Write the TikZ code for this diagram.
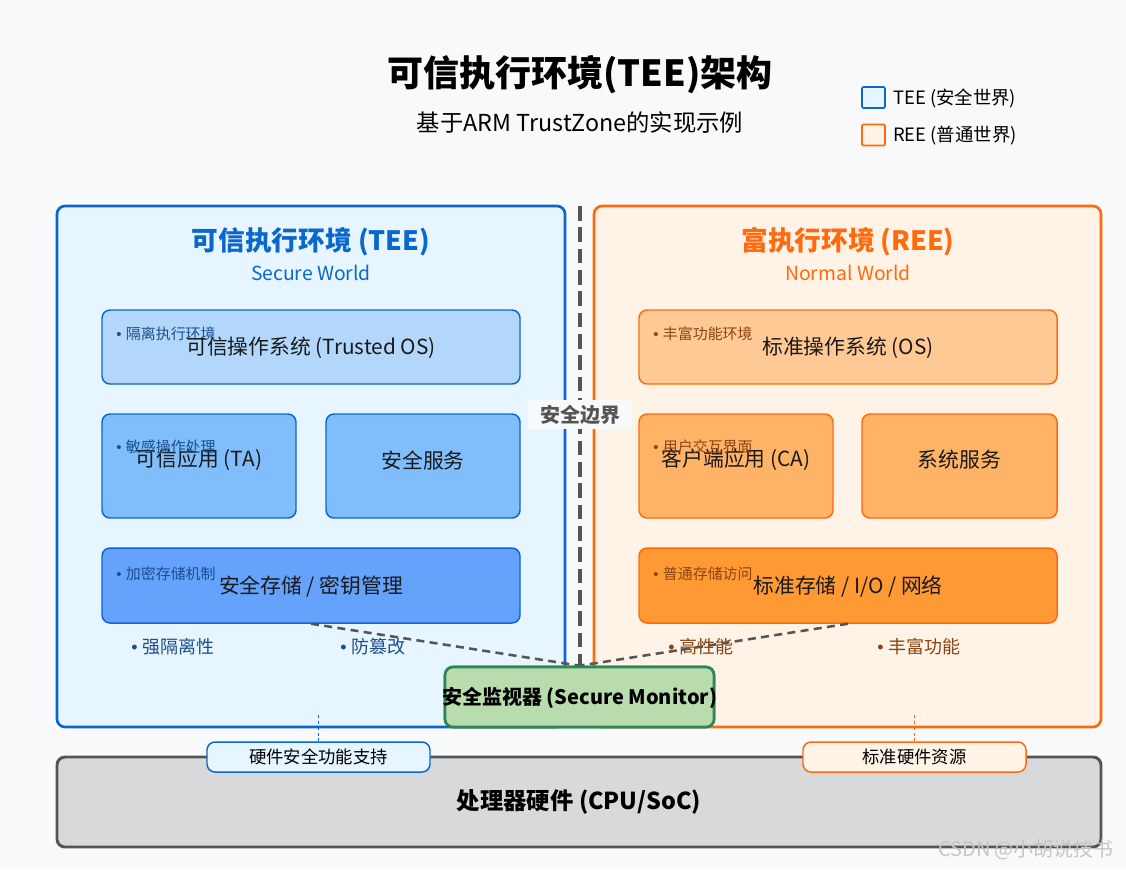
\documentclass[tikz,border=0pt]{standalone}
\usepackage{fontspec}
\setmainfont{Noto Sans CJK SC}
\newfontfamily\lsf{Liberation Sans}
\usetikzlibrary{positioning}

\definecolor{pagebg}{HTML}{F8F9FA}
\definecolor{teeline}{HTML}{0A68CC}
\definecolor{teefill}{HTML}{E6F5FF}
\definecolor{teeos}{HTML}{B3D7FA}
\definecolor{teeapp}{HTML}{80BDFB}
\definecolor{teestore}{HTML}{64A2FB}
\definecolor{teenote}{HTML}{1B4F8A}
\definecolor{reeline}{HTML}{FF6A0D}
\definecolor{reefill}{HTML}{FFF2E6}
\definecolor{reeos}{HTML}{FFC995}
\definecolor{reeapp}{HTML}{FFB366}
\definecolor{reestore}{HTML}{FF9933}
\definecolor{reenote}{HTML}{8B4513}
\definecolor{monfill}{HTML}{B9DCAF}
\definecolor{monline}{HTML}{2E8555}
\definecolor{cpufill}{HTML}{D8D9DB}
\definecolor{darkgray}{HTML}{555555}

% narrow list bullet
\newcommand\bul{{\lsf\textbullet}\hspace{0.3em}}

\begin{document}
\begin{tikzpicture}[x=0.75pt,y=-0.75pt,
  sz/.style 2 args={minimum width=#1*0.75pt, minimum height=#2*0.75pt, inner sep=0pt},
  world/.style={draw, line width=2pt, rounded corners=6pt},
  part/.style={draw, line width=1.1pt, rounded corners=6pt},
  parttext/.style={font=\fontsize{15.6}{18}\selectfont, text=black!90, inner sep=0pt},
  note/.style={font=\fontsize{11.2}{13}\selectfont, anchor=west, inner sep=0pt},
  feature/.style={font=\fontsize{13.5}{16}\selectfont, anchor=west, inner sep=0pt},
  wtitle/.style={font=\fontsize{20}{24}\bfseries\selectfont, inner sep=0pt},
  wsub/.style={font=\fontsize{14.5}{17}\selectfont, inner sep=0pt},
  link/.style={darkgray, line width=1.9pt, dash pattern=on 6pt off 4pt},
  boundary/.style={darkgray, line width=3pt, dash pattern=on 11pt off 5pt},
  hwtag/.style={draw, line width=1.1pt, rounded corners=6pt, font=\fontsize{13}{15}\selectfont},
  tick/.style={line width=0.8pt, dash pattern=on 2.2pt off 2.2pt},
  legendbox/.style={draw, line width=1.2pt, rounded corners=1pt},
  monbox/.style={draw=monline, fill=monfill, line width=2pt, rounded corners=6pt}
]
% page
\fill[pagebg] (0,0) rectangle (1126,869);
\useasboundingbox (0,0) rectangle (1126,869);

% heading
\node[font=\fontsize{27}{32}\bfseries\selectfont, inner sep=0pt] (title) at (580,75) {可信执行环境(TEE)架构};
\node[font=\fontsize{17.5}{21}\selectfont, inner sep=0pt] (subtitle) at (580,123) {基于ARM TrustZone的实现示例};

% legend
\node[legendbox, draw=teeline, fill=teefill, sz={23}{21}] (lgtee) at (873.5,97.5) {};
\node[anchor=west, inner sep=0pt, font=\fontsize{13.8}{15}\selectfont] (lgteetext) at (893,98) {TEE (安全世界)};
\node[legendbox, draw=reeline, fill=reefill, sz={23}{21}] (lgree) at (873.5,135) {};
\node[anchor=west, inner sep=0pt, font=\fontsize{13.8}{15}\selectfont] (lgreetext) at (893,136) {REE (普通世界)};

% the two worlds
\node[world, draw=teeline, fill=teefill, sz={508}{521}] (tee) at (311,466.5) {};
\node[world, draw=reeline, fill=reefill, sz={507}{521}] (ree) at (847.5,466.5) {};

\node[wtitle, text=teeline] (teetitle) at (311,242) {可信执行环境 (TEE)};
\node[wsub, text=teeline] (teesub) at (311,273) {Secure World};
\node[wtitle, text=reeline] (reetitle) at (848,242) {富执行环境 (REE)};
\node[wsub, text=reeline] (reesub) at (848,273) {Normal World};

% secure monitor outline (its label is set later, over the links)
\node[monbox, sz={269}{60}] (mon) at (579.5,697) {};

% boundary between the worlds
\coordinate (btop) at (579.5,206);
\draw[boundary] (btop) -- (mon.north);
\node[fill=pagebg, sz={104}{29}, font=\fontsize{15}{18}\bfseries\selectfont, text=darkgray] (border) at (580,414.5) {安全边界};

% TEE components
\node[part, draw=teeline, fill=teeos, sz={418}{74}] (tos) at (311,347) {};
\node[parttext] (tostext) at (311,348) {可信操作系统 (Trusted OS)};
\node[note, text=teenote] (tosnote) at (116,334) {\bul 隔离执行环境};

\node[part, draw=teeline, fill=teeapp, sz={194}{104}] (ta) at (199,466) {};
\node[parttext] (tatext) at (199,460) {可信应用 (TA)};
\node[note, text=teenote] (tanote) at (116,447) {\bul 敏感操作处理};

\node[part, draw=teeline, fill=teeapp, sz={194}{104}] (tsvc) at (423,466) {};
\node[parttext] (tsvctext) at (423,460) {安全服务};

\node[part, draw=teeline, fill=teestore, sz={418}{75}] (tstore) at (311,585.5) {};
\node[parttext] (tstoretext) at (311,586) {安全存储 / 密钥管理};
\node[note, text=teenote] (tstorenote) at (116,574) {\bul 加密存储机制};

\node[feature, text=teenote] (tfeat1) at (131,647) {\bul 强隔离性};
\node[feature, text=teenote] (tfeat2) at (340,647) {\bul 防篡改};

% REE components
\node[part, draw=reeline, fill=reeos, sz={418}{74}] (ros) at (848,347) {};
\node[parttext] (rostext) at (848,348) {标准操作系统 (OS)};
\node[note, text=reenote] (rosnote) at (653,334) {\bul 丰富功能环境};

\node[part, draw=reeline, fill=reeapp, sz={194}{104}] (ca) at (736,466) {};
\node[parttext] (catext) at (736,460) {客户端应用 (CA)};
\node[note, text=reenote] (canote) at (653,447) {\bul 用户交互界面};

\node[part, draw=reeline, fill=reeapp, sz={195}{104}] (rsvc) at (959.5,466) {};
\node[parttext] (rsvctext) at (959.5,460) {系统服务};

\node[part, draw=reeline, fill=reestore, sz={418}{75}] (rstore) at (848,585.5) {};
\node[parttext] (rstoretext) at (848,586) {标准存储 / I/O / 网络};
\node[note, text=reenote] (rstorenote) at (653,574) {\bul 普通存储访问};

\node[feature, text=reenote] (rfeat1) at (668,647) {\bul 高性能};
\node[feature, text=reenote] (rfeat2) at (877,647) {\bul 丰富功能};

% storage links to the monitor
\draw[link] (tstore.south) -- (mon.north);
\draw[link] (rstore.south) -- (mon.north);

% monitor box redrawn on top of the links, with its label
\node[monbox, sz={269}{60}] (montop) at (579.5,697) {};
\node[font=\fontsize{15}{17}\bfseries\selectfont, inner sep=0pt] (montext) at (579.5,698) {安全监视器 (Secure Monitor)};

% hardware
\node[draw=darkgray, fill=cpufill, line width=2.2pt, rounded corners=6pt, sz={1044}{90},
      font=\fontsize{17.5}{20}\bfseries\selectfont] (cpu) at (579,802) {处理器硬件 (CPU/SoC)};

\node[hwtag, draw=teeline, fill=teefill, sz={223}{30}] (hwt) at (318.5,757) {硬件安全功能支持};
\node[hwtag, draw=reeline, fill=reefill, sz={223}{30}] (hwr) at (914.5,757) {标准硬件资源};

\coordinate (tdot) at (318.5,715);
\coordinate (rdot) at (914.5,715);
\draw[tick, teeline] (tdot) -- (hwt.north);
\draw[tick, reeline] (rdot) -- (hwr.north);

% signature
\node[font=\fontsize{15}{18}\selectfont, text=gray!45, inner sep=0pt] (sig) at (1026,850) {CSDN @小胡说技书};
\end{tikzpicture}
\end{document}
